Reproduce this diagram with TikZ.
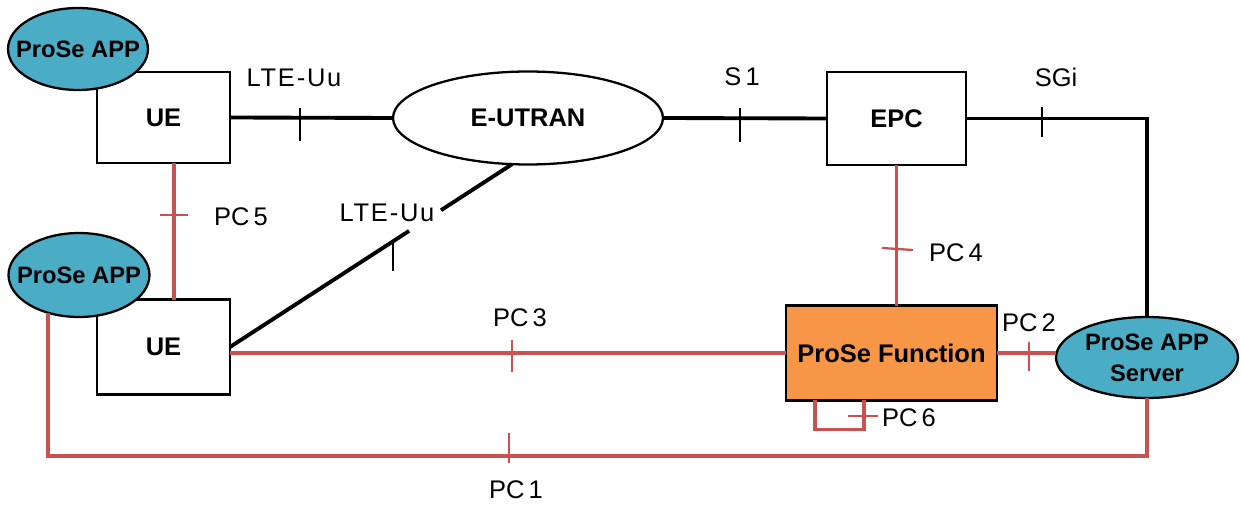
\documentclass[tikz,border=0pt]{standalone}
\usepackage{fontspec}
\setmainfont{Liberation Sans}
\usetikzlibrary{calc,shapes.geometric}
\definecolor{linkred}{RGB}{200,82,82}
\definecolor{appteal}{RGB}{75,172,198}
\definecolor{pforange}{RGB}{247,150,70}

\tikzset{
  box/.style={draw=black, line width=1.3pt, fill=white, inner sep=0pt, outer sep=0pt,
    font=\bfseries\fontsize{14.5}{17}\selectfont},
  % ellipse whose size is set only by minimum width/height; text sits in a centred label
  netcloud/.style={ellipse, draw=black, line width=1.3pt, fill=white, inner sep=0pt, outer sep=0pt},
  cloudtext/.style={align=center, inner sep=0pt, font=\bfseries\fontsize{14.5}{17.6}\selectfont},
  apptext/.style={cloudtext, font=\bfseries\fontsize{13.5}{17.6}\selectfont},
  appcloud/.style={netcloud, fill=appteal},
  blackline/.style={draw=black, line width=2.2pt},
  redline/.style={draw=linkred, line width=2.2pt},
  blacktick/.style={draw=black, line width=1.1pt},
  redtick/.style={draw=linkred, line width=1.3pt},
  iflabel/.style={font=\fontsize{14.5}{16}\selectfont, inner sep=0pt},
  widelabel/.style={iflabel, font=\fontsize{14.5}{16}\selectfont\addfontfeature{LetterSpace=7}}
}

\begin{document}
\begin{tikzpicture}[x=0.02cm, y=-0.02cm]
\useasboundingbox (0,0) rectangle (1241,506);

% network elements
\node[box, minimum width=2.66cm, minimum height=1.82cm] (UE1) at (163.5,117.5) {UE};
\node[box, minimum width=2.66cm, minimum height=1.90cm] (UE2) at (163.5,347) {UE};
\node[netcloud, minimum width=5.4cm, minimum height=1.86cm,
      label={[cloudtext]center:E-UTRAN}] (EUTRAN) at (528,118) {};
\node[box, minimum width=2.78cm, minimum height=1.86cm] (EPC) at (896.5,118.5) {EPC};
\node[box, fill=pforange, minimum width=4.22cm, minimum height=1.90cm] (PF) at (891.5,353) {ProSe Function};
\node[appcloud, minimum width=3.64cm, minimum height=1.62cm,
      label={[apptext]center:ProSe APP\\Server}] (Server) at (1147,357.5) {};
\node[appcloud, minimum width=2.8cm, minimum height=1.64cm,
      label={[apptext]center:ProSe APP}] (APP1) at (78,49) {};
\node[appcloud, minimum width=2.82cm, minimum height=1.68cm,
      label={[apptext]center:ProSe APP}] (APP2) at (79,275) {};

% end of the radio link on the E-UTRAN border
\coordinate (eu) at (EUTRAN.251);

% black (LTE) interfaces
\draw[blackline] (UE1.east) -- (EUTRAN.west);
\draw[blackline] (EUTRAN.east) -- (EPC.west);
\draw[blackline] (EPC.east) -| (Server.north);
\draw[blackline] (UE2.east) -- ($(UE2.east)!0.635!(eu)$);
\draw[blackline] ($(UE2.east)!0.748!(eu)$) -- (eu);

% red (ProSe) interfaces
\draw[redline] (UE1.south -| 174,0) -- (UE2.north -| 174,0);
\draw[redline] (UE2.east |- PF.west) -- (PF.west);
\draw[redline] (EPC.south) -- (EPC.south |- PF.north);
\draw[redline] (PF.east) -- (PF.east -| Server.west);
\draw[redline] (APP2.231) |- ($(Server.south)+(0,58)$) -- (Server.south);
\draw[redline] (PF.south -| 815,0) -- ++(0,29) -| (PF.south -| 864,0);

% interface ticks
\draw[blacktick] (300,108) -- (300,141);
\draw[blacktick] (740,108) -- (740,142);
\draw[blacktick] (1042,107) -- (1042,137);
\draw[blacktick] ($(UE2.east)!0.578!(eu)$) -- ++(0,30);
\draw[redtick] (512,340) -- (512,372);
\draw[redtick] (1029,342) -- (1029,371);
\draw[redtick] (509,433) -- (509,463);
\draw[redtick] (160,215) -- (188,215);
\draw[redtick] (882,248) -- (913,250);
\draw[redtick] (848,416) -- (878,416);

% interface labels
\node[widelabel] (lLTE1) at (294,78) {LTE-Uu};
\node[iflabel] (lS1) at (742,77) {S\,1};
\node[iflabel] (lSGi) at (1056,77) {SGi};
\node[iflabel] (lPC5) at (241,217) {PC\,5};
\node[widelabel] (lLTE2) at (387,213) {LTE-Uu};
\node[iflabel] (lPC3) at (520,318) {PC\,3};
\node[iflabel] (lPC4) at (956,253) {PC\,4};
\node[iflabel] (lPC2) at (1029,323) {PC\,2};
\node[iflabel] (lPC6) at (909,418) {PC\,6};
\node[iflabel] (lPC1) at (516,490) {PC\,1};
\end{tikzpicture}
\end{document}
